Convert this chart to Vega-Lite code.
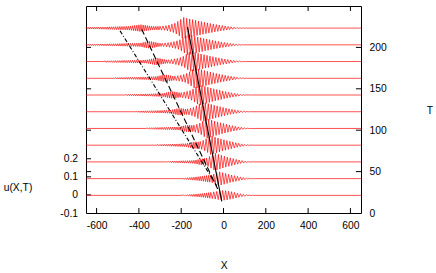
{
"$schema":"https://vega.github.io/schema/vega-lite/v6.json",
"width":275,"height":207,
"autosize":"none",
"padding":{"left":86,"top":6,"right":75,"bottom":60},
"background":"white",
"config":{"view":{"stroke":"#000","strokeWidth":1},"font":"Liberation Sans",
"axis":{"labelFont":"Liberation Sans","labelFontSize":10.3,"labelColor":"#000","titleFont":"Liberation Sans","titleFontSize":10.3,"titleFontWeight":"normal","titleColor":"#000","grid":false,"domain":false,"ticks":false}},
"layer":[
{"data":{"values":[{"u":0},{"u":0.1},{"u":0.2}]},
 "mark":{"type":"rule","color":"#000","strokeWidth":1},
 "encoding":{
  "y":{"field":"u","type":"quantitative","scale":{"domain":[-0.1,1.045],"nice":false,"zero":false},
   "axis":{"orient":"left","values":[-0.1,0,0.1,0.2],"format":"~g","labelExpr":"replace(datum.label,'−','-')","labelPadding":8.5,"title":"u(X,T)","titleAngle":0,"titleAlign":"center","titleBaseline":"middle","titleX":-68.5,"titleY":181.5}},
  "x":{"datum":-650,"type":"quantitative"},"x2":{"datum":-626}}},
{"layer":[
 {"data":{"values":[
{"k":10,"x":-650,"y":224.3},{"k":10,"x":-645,"y":222.3},{"k":10,"x":-640,"y":224.3},{"k":10,"x":-635,"y":222.2},{"k":10,"x":-630,"y":224.4},{"k":10,"x":-625,"y":222.2},{"k":10,"x":-620,"y":224.4},{"k":10,"x":-615,"y":222.2},{"k":10,"x":-610,"y":224.4},{"k":10,"x":-605,"y":222.2},{"k":10,"x":-600,"y":224.5},{"k":10,"x":-595,"y":222.1},{"k":10,"x":-590,"y":224.5},{"k":10,"x":-585,"y":222.1},{"k":10,"x":-580,"y":224.5},{"k":10,"x":-575,"y":222.0},{"k":10,"x":-570,"y":224.6},{"k":10,"x":-565,"y":222.0},{"k":10,"x":-560,"y":224.6},{"k":10,"x":-555,"y":221.9},{"k":10,"x":-550,"y":224.7},{"k":10,"x":-545,"y":221.8},{"k":10,"x":-540,"y":224.8},{"k":10,"x":-535,"y":221.8},{"k":10,"x":-530,"y":224.8},{"k":10,"x":-525,"y":221.7},{"k":10,"x":-520,"y":224.9},{"k":10,"x":-515,"y":221.6},{"k":10,"x":-510,"y":225.0},{"k":10,"x":-505,"y":221.5},{"k":10,"x":-500,"y":225.1},{"k":10,"x":-495,"y":221.4},{"k":10,"x":-490,"y":225.2},{"k":10,"x":-485,"y":221.3},{"k":10,"x":-480,"y":225.3},{"k":10,"x":-475,"y":221.3},{"k":10,"x":-470,"y":225.3},{"k":10,"x":-465,"y":221.2},{"k":10,"x":-460,"y":225.4},{"k":10,"x":-455,"y":221.1},{"k":10,"x":-450,"y":225.5},{"k":10,"x":-445,"y":220.9},{"k":10,"x":-440,"y":225.8},{"k":10,"x":-435,"y":220.6},{"k":10,"x":-430,"y":226.2},{"k":10,"x":-425,"y":220.2},{"k":10,"x":-420,"y":226.5},{"k":10,"x":-415,"y":219.9},{"k":10,"x":-410,"y":226.8},{"k":10,"x":-405,"y":219.6},{"k":10,"x":-400,"y":227.2},{"k":10,"x":-395,"y":219.2},{"k":10,"x":-390,"y":227.5},{"k":10,"x":-385,"y":219.3},{"k":10,"x":-380,"y":227.1},{"k":10,"x":-375,"y":219.7},{"k":10,"x":-370,"y":226.7},{"k":10,"x":-365,"y":220.1},{"k":10,"x":-360,"y":226.3},{"k":10,"x":-355,"y":220.4},{"k":10,"x":-350,"y":226.0},{"k":10,"x":-345,"y":220.8},{"k":10,"x":-340,"y":225.6},{"k":10,"x":-335,"y":221.1},{"k":10,"x":-330,"y":225.3},{"k":10,"x":-325,"y":221.2},{"k":10,"x":-320,"y":225.4},{"k":10,"x":-315,"y":221.2},{"k":10,"x":-310,"y":225.4},{"k":10,"x":-305,"y":221.1},
{"k":10,"x":-300,"y":225.5},{"k":10,"x":-293,"y":220.9},{"k":10,"x":-286,"y":225.9},{"k":10,"x":-279,"y":220.6},{"k":10,"x":-272,"y":226.2},{"k":10,"x":-265,"y":220.0},{"k":10,"x":-258,"y":227.0},{"k":10,"x":-251,"y":219.1},{"k":10,"x":-244,"y":228.1},{"k":10,"x":-237,"y":218.0},{"k":10,"x":-230,"y":229.2},{"k":10,"x":-223,"y":216.3},{"k":10,"x":-216,"y":231.4},{"k":10,"x":-209,"y":214.0},{"k":10,"x":-202,"y":233.9},{"k":10,"x":-195,"y":211.3},{"k":10,"x":-188,"y":236.2},{"k":10,"x":-181,"y":210.9},{"k":10,"x":-174,"y":235.2},{"k":10,"x":-167,"y":211.8},{"k":10,"x":-160,"y":234.4},{"k":10,"x":-153,"y":212.6},{"k":10,"x":-146,"y":233.6},{"k":10,"x":-139,"y":213.5},{"k":10,"x":-132,"y":232.7},{"k":10,"x":-125,"y":214.3},{"k":10,"x":-118,"y":231.9},{"k":10,"x":-111,"y":215.0},{"k":10,"x":-104,"y":231.1},{"k":10,"x":-97,"y":215.9},{"k":10,"x":-90,"y":230.4},{"k":10,"x":-83,"y":216.6},{"k":10,"x":-76,"y":229.6},{"k":10,"x":-69,"y":217.4},{"k":10,"x":-62,"y":228.9},{"k":10,"x":-55,"y":218.0},{"k":10,"x":-48,"y":228.3},{"k":10,"x":-41,"y":218.7},{"k":10,"x":-34,"y":227.6},{"k":10,"x":-27,"y":219.3},{"k":10,"x":-20,"y":227.0},{"k":10,"x":-13,"y":219.9},{"k":10,"x":-6,"y":226.4},{"k":10,"x":1,"y":220.4},{"k":10,"x":8,"y":225.9},{"k":10,"x":15,"y":221.0},{"k":10,"x":22,"y":225.3},{"k":10,"x":29,"y":221.5},{"k":10,"x":36,"y":224.9},{"k":10,"x":43,"y":221.9},{"k":10,"x":50,"y":224.5},{"k":10,"x":57,"y":222.3},{"k":10,"x":64,"y":224.1},{"k":10,"x":71,"y":222.7},{"k":10,"x":78,"y":223.8},{"k":10,"x":85,"y":222.9},{"k":10,"x":92,"y":223.6},{"k":10,"x":99,"y":223.1},{"k":10,"x":106,"y":223.4},{"k":10,"x":113,"y":223.3},{"k":10,"x":650,"y":223.3},
{"k":9,"x":-650,"y":203.9},{"k":9,"x":-645,"y":202.3},{"k":9,"x":-640,"y":203.9},{"k":9,"x":-635,"y":202.3},{"k":9,"x":-630,"y":203.9},{"k":9,"x":-625,"y":202.2},{"k":9,"x":-620,"y":204.0},{"k":9,"x":-615,"y":202.2},{"k":9,"x":-610,"y":204.0},{"k":9,"x":-605,"y":202.2},{"k":9,"x":-600,"y":204.0},{"k":9,"x":-595,"y":202.2},{"k":9,"x":-590,"y":204.0},{"k":9,"x":-585,"y":202.2},{"k":9,"x":-580,"y":204.1},{"k":9,"x":-575,"y":202.1},{"k":9,"x":-570,"y":204.1},{"k":9,"x":-565,"y":202.0},{"k":9,"x":-560,"y":204.2},{"k":9,"x":-555,"y":202.0},{"k":9,"x":-550,"y":204.2},{"k":9,"x":-545,"y":202.0},{"k":9,"x":-540,"y":204.3},{"k":9,"x":-535,"y":201.9},{"k":9,"x":-530,"y":204.3},{"k":9,"x":-525,"y":201.9},{"k":9,"x":-520,"y":204.4},{"k":9,"x":-515,"y":201.8},{"k":9,"x":-510,"y":204.4},{"k":9,"x":-505,"y":201.8},{"k":9,"x":-500,"y":204.5},{"k":9,"x":-495,"y":201.7},{"k":9,"x":-490,"y":204.6},{"k":9,"x":-485,"y":201.6},{"k":9,"x":-480,"y":204.7},{"k":9,"x":-475,"y":201.5},{"k":9,"x":-470,"y":204.7},{"k":9,"x":-465,"y":201.5},{"k":9,"x":-460,"y":204.8},{"k":9,"x":-455,"y":201.4},{"k":9,"x":-450,"y":204.9},{"k":9,"x":-445,"y":201.3},{"k":9,"x":-440,"y":204.9},{"k":9,"x":-435,"y":201.3},{"k":9,"x":-430,"y":205.0},{"k":9,"x":-425,"y":201.2},{"k":9,"x":-420,"y":205.0},{"k":9,"x":-415,"y":201.2},{"k":9,"x":-410,"y":205.1},{"k":9,"x":-405,"y":201.1},{"k":9,"x":-400,"y":205.1},{"k":9,"x":-395,"y":201.0},{"k":9,"x":-390,"y":205.4},{"k":9,"x":-385,"y":200.5},{"k":9,"x":-380,"y":206.0},{"k":9,"x":-375,"y":199.9},{"k":9,"x":-370,"y":206.6},{"k":9,"x":-365,"y":199.4},{"k":9,"x":-360,"y":207.0},{"k":9,"x":-355,"y":199.0},{"k":9,"x":-350,"y":207.3},{"k":9,"x":-345,"y":199.0},{"k":9,"x":-340,"y":207.0},{"k":9,"x":-335,"y":199.4},{"k":9,"x":-330,"y":206.6},{"k":9,"x":-325,"y":199.9},{"k":9,"x":-320,"y":206.0},{"k":9,"x":-315,"y":200.5},{"k":9,"x":-310,"y":205.4},{"k":9,"x":-305,"y":201.0},{"k":9,"x":-300,"y":205.0},{"k":9,"x":-295,"y":201.2},
{"k":9,"x":-290,"y":205.0},{"k":9,"x":-283,"y":201.1},{"k":9,"x":-276,"y":205.3},{"k":9,"x":-269,"y":200.7},{"k":9,"x":-262,"y":205.7},{"k":9,"x":-255,"y":200.2},{"k":9,"x":-248,"y":206.3},{"k":9,"x":-241,"y":199.6},{"k":9,"x":-234,"y":207.0},{"k":9,"x":-227,"y":198.8},{"k":9,"x":-220,"y":208.0},{"k":9,"x":-213,"y":197.7},{"k":9,"x":-206,"y":209.3},{"k":9,"x":-199,"y":195.8},{"k":9,"x":-192,"y":211.6},{"k":9,"x":-185,"y":193.4},{"k":9,"x":-178,"y":214.1},{"k":9,"x":-171,"y":190.8},{"k":9,"x":-164,"y":215.2},{"k":9,"x":-157,"y":191.5},{"k":9,"x":-150,"y":214.3},{"k":9,"x":-143,"y":192.4},{"k":9,"x":-136,"y":213.4},{"k":9,"x":-129,"y":193.3},{"k":9,"x":-122,"y":212.5},{"k":9,"x":-115,"y":194.1},{"k":9,"x":-108,"y":211.7},{"k":9,"x":-101,"y":194.9},{"k":9,"x":-94,"y":210.8},{"k":9,"x":-87,"y":195.8},{"k":9,"x":-80,"y":210.1},{"k":9,"x":-73,"y":196.5},{"k":9,"x":-66,"y":209.3},{"k":9,"x":-59,"y":197.3},{"k":9,"x":-52,"y":208.6},{"k":9,"x":-45,"y":198.0},{"k":9,"x":-38,"y":207.9},{"k":9,"x":-31,"y":198.7},{"k":9,"x":-24,"y":207.3},{"k":9,"x":-17,"y":199.3},{"k":9,"x":-10,"y":206.6},{"k":9,"x":-3,"y":199.9},{"k":9,"x":4,"y":206.0},{"k":9,"x":11,"y":200.4},{"k":9,"x":18,"y":205.5},{"k":9,"x":25,"y":201.0},{"k":9,"x":32,"y":204.9},{"k":9,"x":39,"y":201.5},{"k":9,"x":46,"y":204.5},{"k":9,"x":53,"y":202.0},{"k":9,"x":60,"y":204.0},{"k":9,"x":67,"y":202.3},{"k":9,"x":74,"y":203.7},{"k":9,"x":81,"y":202.7},{"k":9,"x":88,"y":203.3},{"k":9,"x":95,"y":203.0},{"k":9,"x":102,"y":203.2},{"k":9,"x":110,"y":203.1},{"k":9,"x":650,"y":203.1},
{"k":8,"x":-650,"y":182.9},{"k":8,"x":-565,"y":182.9},{"k":8,"x":-560,"y":183.7},{"k":8,"x":-555,"y":182.0},{"k":8,"x":-550,"y":183.8},{"k":8,"x":-545,"y":182.0},{"k":8,"x":-540,"y":183.8},{"k":8,"x":-535,"y":182.0},{"k":8,"x":-530,"y":183.9},{"k":8,"x":-525,"y":181.9},{"k":8,"x":-520,"y":183.9},{"k":8,"x":-515,"y":181.9},{"k":8,"x":-510,"y":184.0},{"k":8,"x":-505,"y":181.8},{"k":8,"x":-500,"y":184.0},{"k":8,"x":-495,"y":181.8},{"k":8,"x":-490,"y":184.1},{"k":8,"x":-485,"y":181.7},{"k":8,"x":-480,"y":184.1},{"k":8,"x":-475,"y":181.7},{"k":8,"x":-470,"y":184.2},{"k":8,"x":-465,"y":181.6},{"k":8,"x":-460,"y":184.2},{"k":8,"x":-455,"y":181.6},{"k":8,"x":-450,"y":184.3},{"k":8,"x":-445,"y":181.5},{"k":8,"x":-440,"y":184.4},{"k":8,"x":-435,"y":181.4},{"k":8,"x":-430,"y":184.5},{"k":8,"x":-425,"y":181.3},{"k":8,"x":-420,"y":184.5},{"k":8,"x":-415,"y":181.3},{"k":8,"x":-410,"y":184.6},{"k":8,"x":-405,"y":181.2},{"k":8,"x":-400,"y":184.7},{"k":8,"x":-395,"y":181.1},{"k":8,"x":-390,"y":184.7},{"k":8,"x":-385,"y":181.1},{"k":8,"x":-380,"y":184.8},{"k":8,"x":-375,"y":181.0},{"k":8,"x":-370,"y":184.9},{"k":8,"x":-365,"y":180.9},{"k":8,"x":-360,"y":185.0},{"k":8,"x":-355,"y":180.6},{"k":8,"x":-350,"y":185.5},{"k":8,"x":-345,"y":180.0},{"k":8,"x":-340,"y":186.1},{"k":8,"x":-335,"y":179.5},{"k":8,"x":-330,"y":186.6},{"k":8,"x":-325,"y":179.0},{"k":8,"x":-320,"y":187.0},{"k":8,"x":-315,"y":178.8},{"k":8,"x":-310,"y":187.0},{"k":8,"x":-305,"y":179.0},{"k":8,"x":-300,"y":186.6},{"k":8,"x":-295,"y":179.5},{"k":8,"x":-290,"y":186.1},{"k":8,"x":-285,"y":180.0},{"k":8,"x":-280,"y":185.5},{"k":8,"x":-275,"y":180.6},{"k":8,"x":-270,"y":185.0},{"k":8,"x":-265,"y":180.8},
{"k":8,"x":-260,"y":185.1},{"k":8,"x":-253,"y":180.5},{"k":8,"x":-246,"y":185.6},{"k":8,"x":-239,"y":180.0},{"k":8,"x":-232,"y":186.2},{"k":8,"x":-225,"y":179.3},{"k":8,"x":-218,"y":186.8},{"k":8,"x":-211,"y":178.5},{"k":8,"x":-204,"y":187.8},{"k":8,"x":-197,"y":177.3},{"k":8,"x":-190,"y":189.3},{"k":8,"x":-183,"y":175.5},{"k":8,"x":-176,"y":191.5},{"k":8,"x":-169,"y":173.0},{"k":8,"x":-162,"y":194.1},{"k":8,"x":-155,"y":171.1},{"k":8,"x":-148,"y":194.9},{"k":8,"x":-141,"y":171.4},{"k":8,"x":-134,"y":193.9},{"k":8,"x":-127,"y":172.3},{"k":8,"x":-120,"y":193.0},{"k":8,"x":-113,"y":173.2},{"k":8,"x":-106,"y":192.1},{"k":8,"x":-99,"y":174.2},{"k":8,"x":-92,"y":191.2},{"k":8,"x":-85,"y":175.0},{"k":8,"x":-78,"y":190.4},{"k":8,"x":-71,"y":175.8},{"k":8,"x":-64,"y":189.5},{"k":8,"x":-57,"y":176.7},{"k":8,"x":-50,"y":188.8},{"k":8,"x":-43,"y":177.4},{"k":8,"x":-36,"y":188.0},{"k":8,"x":-29,"y":178.2},{"k":8,"x":-22,"y":187.3},{"k":8,"x":-15,"y":178.9},{"k":8,"x":-8,"y":186.6},{"k":8,"x":-1,"y":179.6},{"k":8,"x":6,"y":186.0},{"k":8,"x":13,"y":180.1},{"k":8,"x":20,"y":185.4},{"k":8,"x":27,"y":180.7},{"k":8,"x":34,"y":184.8},{"k":8,"x":41,"y":181.2},{"k":8,"x":48,"y":184.3},{"k":8,"x":55,"y":181.8},{"k":8,"x":62,"y":183.8},{"k":8,"x":69,"y":182.2},{"k":8,"x":76,"y":183.5},{"k":8,"x":83,"y":182.5},{"k":8,"x":90,"y":183.2},{"k":8,"x":97,"y":182.7},{"k":8,"x":104,"y":183.0},{"k":8,"x":111,"y":182.9},{"k":8,"x":650,"y":182.9},
{"k":7,"x":-650,"y":162.7},{"k":7,"x":-515,"y":162.7},{"k":7,"x":-510,"y":163.5},{"k":7,"x":-505,"y":161.9},{"k":7,"x":-500,"y":163.6},{"k":7,"x":-495,"y":161.8},{"k":7,"x":-490,"y":163.6},{"k":7,"x":-485,"y":161.8},{"k":7,"x":-480,"y":163.7},{"k":7,"x":-475,"y":161.7},{"k":7,"x":-470,"y":163.7},{"k":7,"x":-465,"y":161.7},{"k":7,"x":-460,"y":163.8},{"k":7,"x":-455,"y":161.6},{"k":7,"x":-450,"y":163.8},{"k":7,"x":-445,"y":161.6},{"k":7,"x":-440,"y":163.9},{"k":7,"x":-435,"y":161.5},{"k":7,"x":-430,"y":163.9},{"k":7,"x":-425,"y":161.5},{"k":7,"x":-420,"y":164.0},{"k":7,"x":-415,"y":161.4},{"k":7,"x":-410,"y":164.0},{"k":7,"x":-405,"y":161.4},{"k":7,"x":-400,"y":164.1},{"k":7,"x":-395,"y":161.3},{"k":7,"x":-390,"y":164.2},{"k":7,"x":-385,"y":161.2},{"k":7,"x":-380,"y":164.3},{"k":7,"x":-375,"y":161.1},{"k":7,"x":-370,"y":164.3},{"k":7,"x":-365,"y":161.1},{"k":7,"x":-360,"y":164.4},{"k":7,"x":-355,"y":161.0},{"k":7,"x":-350,"y":164.5},{"k":7,"x":-345,"y":160.9},{"k":7,"x":-340,"y":164.6},{"k":7,"x":-335,"y":160.8},{"k":7,"x":-330,"y":164.7},{"k":7,"x":-325,"y":160.7},{"k":7,"x":-320,"y":164.8},{"k":7,"x":-315,"y":160.4},{"k":7,"x":-310,"y":165.3},{"k":7,"x":-305,"y":159.8},{"k":7,"x":-300,"y":165.9},{"k":7,"x":-295,"y":159.3},{"k":7,"x":-290,"y":166.4},{"k":7,"x":-285,"y":158.8},{"k":7,"x":-280,"y":166.8},{"k":7,"x":-275,"y":158.6},{"k":7,"x":-270,"y":166.8},{"k":7,"x":-265,"y":158.8},{"k":7,"x":-260,"y":166.4},{"k":7,"x":-255,"y":159.3},{"k":7,"x":-250,"y":165.9},{"k":7,"x":-245,"y":159.8},{"k":7,"x":-240,"y":165.3},{"k":7,"x":-235,"y":160.2},
{"k":7,"x":-230,"y":165.2},{"k":7,"x":-223,"y":159.9},{"k":7,"x":-216,"y":165.8},{"k":7,"x":-209,"y":159.3},{"k":7,"x":-202,"y":166.4},{"k":7,"x":-195,"y":158.6},{"k":7,"x":-188,"y":167.3},{"k":7,"x":-181,"y":157.6},{"k":7,"x":-174,"y":168.6},{"k":7,"x":-167,"y":155.9},{"k":7,"x":-160,"y":170.6},{"k":7,"x":-153,"y":153.5},{"k":7,"x":-146,"y":173.2},{"k":7,"x":-139,"y":151.1},{"k":7,"x":-132,"y":174.7},{"k":7,"x":-125,"y":151.0},{"k":7,"x":-118,"y":174.0},{"k":7,"x":-111,"y":151.9},{"k":7,"x":-104,"y":173.0},{"k":7,"x":-97,"y":152.9},{"k":7,"x":-90,"y":172.1},{"k":7,"x":-83,"y":153.8},{"k":7,"x":-76,"y":171.1},{"k":7,"x":-69,"y":154.8},{"k":7,"x":-62,"y":170.2},{"k":7,"x":-55,"y":155.6},{"k":7,"x":-48,"y":169.4},{"k":7,"x":-41,"y":156.4},{"k":7,"x":-34,"y":168.5},{"k":7,"x":-27,"y":157.3},{"k":7,"x":-20,"y":167.8},{"k":7,"x":-13,"y":158.0},{"k":7,"x":-6,"y":167.1},{"k":7,"x":1,"y":158.8},{"k":7,"x":8,"y":166.3},{"k":7,"x":15,"y":159.4},{"k":7,"x":22,"y":165.7},{"k":7,"x":29,"y":160.1},{"k":7,"x":36,"y":165.1},{"k":7,"x":43,"y":160.6},{"k":7,"x":50,"y":164.5},{"k":7,"x":57,"y":161.2},{"k":7,"x":64,"y":164.0},{"k":7,"x":71,"y":161.6},{"k":7,"x":78,"y":163.6},{"k":7,"x":85,"y":162.1},{"k":7,"x":92,"y":163.2},{"k":7,"x":99,"y":162.4},{"k":7,"x":106,"y":162.9},{"k":7,"x":113,"y":162.6},{"k":7,"x":120,"y":162.7},{"k":7,"x":650,"y":162.7},
{"k":6,"x":-650,"y":142.5},{"k":6,"x":-465,"y":142.5},{"k":6,"x":-460,"y":143.3},{"k":6,"x":-455,"y":141.7},{"k":6,"x":-450,"y":143.4},{"k":6,"x":-445,"y":141.6},{"k":6,"x":-440,"y":143.4},{"k":6,"x":-435,"y":141.6},{"k":6,"x":-430,"y":143.5},{"k":6,"x":-425,"y":141.5},{"k":6,"x":-420,"y":143.5},{"k":6,"x":-415,"y":141.5},{"k":6,"x":-410,"y":143.6},{"k":6,"x":-405,"y":141.4},{"k":6,"x":-400,"y":143.6},{"k":6,"x":-395,"y":141.4},{"k":6,"x":-390,"y":143.7},{"k":6,"x":-385,"y":141.3},{"k":6,"x":-380,"y":143.7},{"k":6,"x":-375,"y":141.3},{"k":6,"x":-370,"y":143.8},{"k":6,"x":-365,"y":141.2},{"k":6,"x":-360,"y":143.8},{"k":6,"x":-355,"y":141.2},{"k":6,"x":-350,"y":143.9},{"k":6,"x":-345,"y":141.1},{"k":6,"x":-340,"y":144.0},{"k":6,"x":-335,"y":141.0},{"k":6,"x":-330,"y":144.1},{"k":6,"x":-325,"y":140.9},{"k":6,"x":-320,"y":144.2},{"k":6,"x":-315,"y":140.8},{"k":6,"x":-310,"y":144.3},{"k":6,"x":-305,"y":140.7},{"k":6,"x":-300,"y":144.3},{"k":6,"x":-295,"y":140.7},{"k":6,"x":-290,"y":144.4},{"k":6,"x":-285,"y":140.4},{"k":6,"x":-280,"y":144.8},{"k":6,"x":-275,"y":139.9},{"k":6,"x":-270,"y":145.4},{"k":6,"x":-265,"y":139.3},{"k":6,"x":-260,"y":146.0},{"k":6,"x":-255,"y":138.8},{"k":6,"x":-250,"y":146.4},{"k":6,"x":-245,"y":138.5},{"k":6,"x":-240,"y":146.7},{"k":6,"x":-235,"y":138.5},{"k":6,"x":-230,"y":146.4},{"k":6,"x":-225,"y":138.8},{"k":6,"x":-220,"y":146.0},{"k":6,"x":-215,"y":139.3},{"k":6,"x":-210,"y":145.4},{"k":6,"x":-205,"y":139.6},
{"k":6,"x":-200,"y":145.4},{"k":6,"x":-193,"y":139.3},{"k":6,"x":-186,"y":146.1},{"k":6,"x":-179,"y":138.6},{"k":6,"x":-172,"y":146.9},{"k":6,"x":-165,"y":137.7},{"k":6,"x":-158,"y":147.9},{"k":6,"x":-151,"y":136.2},{"k":6,"x":-144,"y":149.8},{"k":6,"x":-137,"y":134.1},{"k":6,"x":-130,"y":152.2},{"k":6,"x":-123,"y":131.5},{"k":6,"x":-116,"y":154.3},{"k":6,"x":-109,"y":130.5},{"k":6,"x":-102,"y":154.0},{"k":6,"x":-95,"y":131.6},{"k":6,"x":-88,"y":153.0},{"k":6,"x":-81,"y":132.5},{"k":6,"x":-74,"y":152.0},{"k":6,"x":-67,"y":133.5},{"k":6,"x":-60,"y":151.0},{"k":6,"x":-53,"y":134.5},{"k":6,"x":-46,"y":150.0},{"k":6,"x":-39,"y":135.5},{"k":6,"x":-32,"y":149.1},{"k":6,"x":-25,"y":136.3},{"k":6,"x":-18,"y":148.3},{"k":6,"x":-11,"y":137.1},{"k":6,"x":-4,"y":147.4},{"k":6,"x":3,"y":138.0},{"k":6,"x":10,"y":146.6},{"k":6,"x":17,"y":138.8},{"k":6,"x":24,"y":145.9},{"k":6,"x":31,"y":139.5},{"k":6,"x":38,"y":145.2},{"k":6,"x":45,"y":140.1},{"k":6,"x":52,"y":144.6},{"k":6,"x":59,"y":140.7},{"k":6,"x":66,"y":144.1},{"k":6,"x":73,"y":141.2},{"k":6,"x":80,"y":143.5},{"k":6,"x":87,"y":141.7},{"k":6,"x":94,"y":143.1},{"k":6,"x":101,"y":142.1},{"k":6,"x":108,"y":142.7},{"k":6,"x":115,"y":142.4},{"k":6,"x":122,"y":142.6},{"k":6,"x":130,"y":142.5},{"k":6,"x":650,"y":142.5},
{"k":5,"x":-650,"y":122.3},{"k":5,"x":-415,"y":122.3},{"k":5,"x":-410,"y":123.1},{"k":5,"x":-405,"y":121.5},{"k":5,"x":-400,"y":123.2},{"k":5,"x":-395,"y":121.4},{"k":5,"x":-390,"y":123.2},{"k":5,"x":-385,"y":121.4},{"k":5,"x":-380,"y":123.3},{"k":5,"x":-375,"y":121.3},{"k":5,"x":-370,"y":123.3},{"k":5,"x":-365,"y":121.3},{"k":5,"x":-360,"y":123.4},{"k":5,"x":-355,"y":121.2},{"k":5,"x":-350,"y":123.4},{"k":5,"x":-345,"y":121.2},{"k":5,"x":-340,"y":123.5},{"k":5,"x":-335,"y":121.1},{"k":5,"x":-330,"y":123.5},{"k":5,"x":-325,"y":121.1},{"k":5,"x":-320,"y":123.6},{"k":5,"x":-315,"y":121.0},{"k":5,"x":-310,"y":123.7},{"k":5,"x":-305,"y":120.9},{"k":5,"x":-300,"y":123.8},{"k":5,"x":-295,"y":120.8},{"k":5,"x":-290,"y":123.9},{"k":5,"x":-285,"y":120.7},{"k":5,"x":-280,"y":124.0},{"k":5,"x":-275,"y":120.6},{"k":5,"x":-270,"y":124.1},{"k":5,"x":-265,"y":120.5},{"k":5,"x":-260,"y":124.1},{"k":5,"x":-255,"y":120.4},{"k":5,"x":-250,"y":124.4},{"k":5,"x":-245,"y":120.0},{"k":5,"x":-240,"y":124.9},{"k":5,"x":-235,"y":119.4},{"k":5,"x":-230,"y":125.5},{"k":5,"x":-225,"y":118.9},{"k":5,"x":-220,"y":126.0},{"k":5,"x":-215,"y":118.4},{"k":5,"x":-210,"y":126.4},{"k":5,"x":-205,"y":118.2},{"k":5,"x":-200,"y":126.4},{"k":5,"x":-195,"y":118.4},{"k":5,"x":-190,"y":126.0},{"k":5,"x":-185,"y":118.9},{"k":5,"x":-180,"y":125.5},{"k":5,"x":-175,"y":119.0},
{"k":5,"x":-170,"y":125.8},{"k":5,"x":-163,"y":118.5},{"k":5,"x":-156,"y":126.6},{"k":5,"x":-149,"y":117.5},{"k":5,"x":-142,"y":127.6},{"k":5,"x":-135,"y":116.2},{"k":5,"x":-128,"y":129.4},{"k":5,"x":-121,"y":114.1},{"k":5,"x":-114,"y":131.8},{"k":5,"x":-107,"y":111.6},{"k":5,"x":-100,"y":134.3},{"k":5,"x":-93,"y":110.9},{"k":5,"x":-86,"y":133.2},{"k":5,"x":-79,"y":111.9},{"k":5,"x":-72,"y":132.2},{"k":5,"x":-65,"y":113.0},{"k":5,"x":-58,"y":131.2},{"k":5,"x":-51,"y":113.9},{"k":5,"x":-44,"y":130.2},{"k":5,"x":-37,"y":114.9},{"k":5,"x":-30,"y":129.3},{"k":5,"x":-23,"y":115.8},{"k":5,"x":-16,"y":128.4},{"k":5,"x":-9,"y":116.7},{"k":5,"x":-2,"y":127.5},{"k":5,"x":5,"y":117.5},{"k":5,"x":12,"y":126.7},{"k":5,"x":19,"y":118.3},{"k":5,"x":26,"y":125.9},{"k":5,"x":33,"y":119.1},{"k":5,"x":40,"y":125.2},{"k":5,"x":47,"y":119.7},{"k":5,"x":54,"y":124.6},{"k":5,"x":61,"y":120.3},{"k":5,"x":68,"y":124.0},{"k":5,"x":75,"y":120.9},{"k":5,"x":82,"y":123.4},{"k":5,"x":89,"y":121.4},{"k":5,"x":96,"y":123.0},{"k":5,"x":103,"y":121.8},{"k":5,"x":110,"y":122.6},{"k":5,"x":117,"y":122.1},{"k":5,"x":124,"y":122.4},{"k":5,"x":131,"y":122.3},{"k":5,"x":650,"y":122.3},
{"k":4,"x":-650,"y":102.1},{"k":4,"x":-365,"y":102.1},{"k":4,"x":-360,"y":102.9},{"k":4,"x":-355,"y":101.3},{"k":4,"x":-350,"y":103.0},{"k":4,"x":-345,"y":101.2},{"k":4,"x":-340,"y":103.0},{"k":4,"x":-335,"y":101.2},{"k":4,"x":-330,"y":103.1},{"k":4,"x":-325,"y":101.1},{"k":4,"x":-320,"y":103.2},{"k":4,"x":-315,"y":101.0},{"k":4,"x":-310,"y":103.2},{"k":4,"x":-305,"y":101.0},{"k":4,"x":-300,"y":103.3},{"k":4,"x":-295,"y":100.9},{"k":4,"x":-290,"y":103.4},{"k":4,"x":-285,"y":100.8},{"k":4,"x":-280,"y":103.4},{"k":4,"x":-275,"y":100.8},{"k":4,"x":-270,"y":103.5},{"k":4,"x":-265,"y":100.7},{"k":4,"x":-260,"y":103.6},{"k":4,"x":-255,"y":100.6},{"k":4,"x":-250,"y":103.7},{"k":4,"x":-245,"y":100.5},{"k":4,"x":-240,"y":103.8},{"k":4,"x":-235,"y":100.4},{"k":4,"x":-230,"y":103.9},{"k":4,"x":-225,"y":100.3},{"k":4,"x":-220,"y":103.9},{"k":4,"x":-215,"y":100.3},{"k":4,"x":-210,"y":104.0},{"k":4,"x":-205,"y":99.9},{"k":4,"x":-200,"y":104.7},{"k":4,"x":-195,"y":99.2},{"k":4,"x":-190,"y":105.3},{"k":4,"x":-185,"y":98.7},{"k":4,"x":-180,"y":105.8},{"k":4,"x":-175,"y":98.2},{"k":4,"x":-170,"y":106.2},{"k":4,"x":-165,"y":98.0},{"k":4,"x":-160,"y":106.2},{"k":4,"x":-155,"y":98.2},{"k":4,"x":-150,"y":105.8},{"k":4,"x":-145,"y":98.3},
{"k":4,"x":-140,"y":106.1},{"k":4,"x":-133,"y":97.6},{"k":4,"x":-126,"y":107.1},{"k":4,"x":-119,"y":96.6},{"k":4,"x":-112,"y":108.6},{"k":4,"x":-105,"y":94.5},{"k":4,"x":-98,"y":110.9},{"k":4,"x":-91,"y":92.1},{"k":4,"x":-84,"y":113.4},{"k":4,"x":-77,"y":90.3},{"k":4,"x":-70,"y":113.3},{"k":4,"x":-63,"y":91.5},{"k":4,"x":-56,"y":112.2},{"k":4,"x":-49,"y":92.6},{"k":4,"x":-42,"y":111.1},{"k":4,"x":-35,"y":93.7},{"k":4,"x":-28,"y":110.0},{"k":4,"x":-21,"y":94.7},{"k":4,"x":-14,"y":109.0},{"k":4,"x":-7,"y":95.7},{"k":4,"x":0,"y":108.1},{"k":4,"x":7,"y":96.6},{"k":4,"x":14,"y":107.2},{"k":4,"x":21,"y":97.5},{"k":4,"x":28,"y":106.3},{"k":4,"x":35,"y":98.3},{"k":4,"x":42,"y":105.5},{"k":4,"x":49,"y":99.1},{"k":4,"x":56,"y":104.8},{"k":4,"x":63,"y":99.8},{"k":4,"x":70,"y":104.1},{"k":4,"x":77,"y":100.4},{"k":4,"x":84,"y":103.5},{"k":4,"x":91,"y":101.0},{"k":4,"x":98,"y":103.0},{"k":4,"x":105,"y":101.5},{"k":4,"x":112,"y":102.5},{"k":4,"x":119,"y":101.9},{"k":4,"x":126,"y":102.2},{"k":4,"x":133,"y":102.0},{"k":4,"x":140,"y":102.1},{"k":4,"x":650,"y":102.1},
{"k":3,"x":-650,"y":81.9},{"k":3,"x":-315,"y":81.9},{"k":3,"x":-310,"y":82.7},{"k":3,"x":-305,"y":81.1},{"k":3,"x":-300,"y":82.8},{"k":3,"x":-295,"y":81.0},{"k":3,"x":-290,"y":82.8},{"k":3,"x":-285,"y":81.0},{"k":3,"x":-280,"y":82.9},{"k":3,"x":-275,"y":80.9},{"k":3,"x":-270,"y":83.0},{"k":3,"x":-265,"y":80.8},{"k":3,"x":-260,"y":83.1},{"k":3,"x":-255,"y":80.7},{"k":3,"x":-250,"y":83.2},{"k":3,"x":-245,"y":80.6},{"k":3,"x":-240,"y":83.2},{"k":3,"x":-235,"y":80.6},{"k":3,"x":-230,"y":83.3},{"k":3,"x":-225,"y":80.5},{"k":3,"x":-220,"y":83.4},{"k":3,"x":-215,"y":80.4},{"k":3,"x":-210,"y":83.5},{"k":3,"x":-205,"y":80.3},{"k":3,"x":-200,"y":83.6},{"k":3,"x":-195,"y":80.2},{"k":3,"x":-190,"y":83.7},{"k":3,"x":-185,"y":80.1},{"k":3,"x":-180,"y":83.8},{"k":3,"x":-175,"y":79.8},{"k":3,"x":-170,"y":84.2},{"k":3,"x":-165,"y":79.3},{"k":3,"x":-160,"y":84.8},{"k":3,"x":-155,"y":78.7},{"k":3,"x":-150,"y":85.4},{"k":3,"x":-145,"y":78.2},{"k":3,"x":-140,"y":85.8},{"k":3,"x":-135,"y":77.9},{"k":3,"x":-130,"y":86.1},{"k":3,"x":-125,"y":77.9},{"k":3,"x":-120,"y":85.8},{"k":3,"x":-115,"y":77.7},
{"k":3,"x":-110,"y":86.4},{"k":3,"x":-103,"y":76.9},{"k":3,"x":-96,"y":87.7},{"k":3,"x":-89,"y":75.2},{"k":3,"x":-82,"y":89.7},{"k":3,"x":-75,"y":73.0},{"k":3,"x":-68,"y":92.0},{"k":3,"x":-61,"y":70.6},{"k":3,"x":-54,"y":92.9},{"k":3,"x":-47,"y":71.5},{"k":3,"x":-40,"y":91.7},{"k":3,"x":-33,"y":72.7},{"k":3,"x":-26,"y":90.6},{"k":3,"x":-19,"y":73.8},{"k":3,"x":-12,"y":89.5},{"k":3,"x":-5,"y":74.8},{"k":3,"x":2,"y":88.5},{"k":3,"x":9,"y":75.8},{"k":3,"x":16,"y":87.5},{"k":3,"x":23,"y":76.8},{"k":3,"x":30,"y":86.6},{"k":3,"x":37,"y":77.6},{"k":3,"x":44,"y":85.8},{"k":3,"x":51,"y":78.5},{"k":3,"x":58,"y":84.9},{"k":3,"x":65,"y":79.3},{"k":3,"x":72,"y":84.2},{"k":3,"x":79,"y":80.0},{"k":3,"x":86,"y":83.5},{"k":3,"x":93,"y":80.6},{"k":3,"x":100,"y":82.9},{"k":3,"x":107,"y":81.1},{"k":3,"x":114,"y":82.5},{"k":3,"x":121,"y":81.5},{"k":3,"x":128,"y":82.1},{"k":3,"x":135,"y":81.9},{"k":3,"x":650,"y":81.9},
{"k":2,"x":-650,"y":61.7},{"k":2,"x":-265,"y":61.7},{"k":2,"x":-260,"y":62.5},{"k":2,"x":-255,"y":60.9},{"k":2,"x":-250,"y":62.6},{"k":2,"x":-245,"y":60.8},{"k":2,"x":-240,"y":62.7},{"k":2,"x":-235,"y":60.7},{"k":2,"x":-230,"y":62.7},{"k":2,"x":-225,"y":60.7},{"k":2,"x":-220,"y":62.8},{"k":2,"x":-215,"y":60.6},{"k":2,"x":-210,"y":62.9},{"k":2,"x":-205,"y":60.5},{"k":2,"x":-200,"y":63.0},{"k":2,"x":-195,"y":60.4},{"k":2,"x":-190,"y":63.1},{"k":2,"x":-185,"y":60.3},{"k":2,"x":-180,"y":63.1},{"k":2,"x":-175,"y":60.3},{"k":2,"x":-170,"y":63.2},{"k":2,"x":-165,"y":60.2},{"k":2,"x":-160,"y":63.3},{"k":2,"x":-155,"y":60.1},{"k":2,"x":-150,"y":63.4},{"k":2,"x":-145,"y":59.9},{"k":2,"x":-140,"y":63.6},{"k":2,"x":-135,"y":59.6},{"k":2,"x":-130,"y":64.0},{"k":2,"x":-125,"y":59.1},{"k":2,"x":-120,"y":64.6},{"k":2,"x":-115,"y":58.5},{"k":2,"x":-110,"y":65.2},{"k":2,"x":-105,"y":58.0},{"k":2,"x":-100,"y":65.6},{"k":2,"x":-95,"y":57.7},{"k":2,"x":-90,"y":65.9},{"k":2,"x":-85,"y":57.3},
{"k":2,"x":-80,"y":66.4},{"k":2,"x":-73,"y":56.1},{"k":2,"x":-66,"y":68.3},{"k":2,"x":-59,"y":54.2},{"k":2,"x":-52,"y":70.3},{"k":2,"x":-45,"y":52.0},{"k":2,"x":-38,"y":72.0},{"k":2,"x":-31,"y":52.0},{"k":2,"x":-24,"y":70.8},{"k":2,"x":-17,"y":53.1},{"k":2,"x":-10,"y":69.7},{"k":2,"x":-3,"y":54.3},{"k":2,"x":4,"y":68.6},{"k":2,"x":11,"y":55.4},{"k":2,"x":18,"y":67.5},{"k":2,"x":25,"y":56.4},{"k":2,"x":32,"y":66.6},{"k":2,"x":39,"y":57.3},{"k":2,"x":46,"y":65.6},{"k":2,"x":53,"y":58.2},{"k":2,"x":60,"y":64.8},{"k":2,"x":67,"y":59.0},{"k":2,"x":74,"y":64.0},{"k":2,"x":81,"y":59.8},{"k":2,"x":88,"y":63.3},{"k":2,"x":95,"y":60.4},{"k":2,"x":102,"y":62.7},{"k":2,"x":109,"y":61.0},{"k":2,"x":116,"y":62.2},{"k":2,"x":123,"y":61.4},{"k":2,"x":130,"y":61.8},{"k":2,"x":137,"y":61.7},{"k":2,"x":650,"y":61.7},
{"k":1,"x":-650,"y":41.5},{"k":1,"x":-205,"y":41.5},{"k":1,"x":-200,"y":42.1},{"k":1,"x":-195,"y":40.8},{"k":1,"x":-190,"y":42.3},{"k":1,"x":-185,"y":40.7},{"k":1,"x":-180,"y":42.4},{"k":1,"x":-175,"y":40.5},{"k":1,"x":-170,"y":42.6},{"k":1,"x":-165,"y":40.3},{"k":1,"x":-160,"y":42.8},{"k":1,"x":-155,"y":40.1},{"k":1,"x":-150,"y":43.1},{"k":1,"x":-145,"y":39.8},{"k":1,"x":-140,"y":43.3},{"k":1,"x":-135,"y":39.6},{"k":1,"x":-130,"y":43.6},{"k":1,"x":-125,"y":39.3},{"k":1,"x":-120,"y":43.8},{"k":1,"x":-115,"y":39.0},{"k":1,"x":-110,"y":44.2},{"k":1,"x":-105,"y":38.7},{"k":1,"x":-100,"y":44.5},{"k":1,"x":-95,"y":38.3},{"k":1,"x":-90,"y":44.9},{"k":1,"x":-85,"y":38.0},{"k":1,"x":-80,"y":45.2},{"k":1,"x":-75,"y":37.6},{"k":1,"x":-70,"y":45.6},{"k":1,"x":-65,"y":37.2},
{"k":1,"x":-60,"y":46.0},{"k":1,"x":-53,"y":36.5},{"k":1,"x":-46,"y":47.1},{"k":1,"x":-39,"y":35.2},{"k":1,"x":-32,"y":48.7},{"k":1,"x":-25,"y":33.6},{"k":1,"x":-18,"y":49.8},{"k":1,"x":-11,"y":33.7},{"k":1,"x":-4,"y":48.8},{"k":1,"x":3,"y":34.7},{"k":1,"x":10,"y":47.8},{"k":1,"x":17,"y":35.7},{"k":1,"x":24,"y":46.8},{"k":1,"x":31,"y":36.7},{"k":1,"x":38,"y":45.9},{"k":1,"x":45,"y":37.5},{"k":1,"x":52,"y":45.1},{"k":1,"x":59,"y":38.3},{"k":1,"x":66,"y":44.3},{"k":1,"x":73,"y":39.1},{"k":1,"x":80,"y":43.6},{"k":1,"x":87,"y":39.8},{"k":1,"x":94,"y":42.9},{"k":1,"x":101,"y":40.3},{"k":1,"x":108,"y":42.4},{"k":1,"x":115,"y":40.9},{"k":1,"x":122,"y":41.9},{"k":1,"x":129,"y":41.3},{"k":1,"x":136,"y":41.6},{"k":1,"x":143,"y":41.4},{"k":1,"x":150,"y":41.5},{"k":1,"x":650,"y":41.5},
{"k":0,"x":-650,"y":21.3},{"k":0,"x":-195,"y":21.3},{"k":0,"x":-190,"y":21.8},{"k":0,"x":-185,"y":20.8},{"k":0,"x":-180,"y":21.9},{"k":0,"x":-175,"y":20.6},{"k":0,"x":-170,"y":22.1},{"k":0,"x":-165,"y":20.4},{"k":0,"x":-160,"y":22.3},{"k":0,"x":-155,"y":20.2},{"k":0,"x":-150,"y":22.5},{"k":0,"x":-145,"y":20.0},{"k":0,"x":-140,"y":22.7},{"k":0,"x":-135,"y":19.8},{"k":0,"x":-130,"y":22.9},{"k":0,"x":-125,"y":19.6},{"k":0,"x":-120,"y":23.1},{"k":0,"x":-115,"y":19.4},{"k":0,"x":-110,"y":23.3},{"k":0,"x":-105,"y":19.2},{"k":0,"x":-100,"y":23.6},{"k":0,"x":-95,"y":18.9},{"k":0,"x":-90,"y":23.9},{"k":0,"x":-85,"y":18.6},{"k":0,"x":-80,"y":24.2},{"k":0,"x":-75,"y":18.2},{"k":0,"x":-70,"y":24.6},{"k":0,"x":-65,"y":17.9},
{"k":0,"x":-60,"y":24.9},{"k":0,"x":-53,"y":17.4},{"k":0,"x":-46,"y":25.5},{"k":0,"x":-39,"y":16.9},{"k":0,"x":-32,"y":26.1},{"k":0,"x":-25,"y":16.2},{"k":0,"x":-18,"y":26.8},{"k":0,"x":-11,"y":15.5},{"k":0,"x":-4,"y":27.2},{"k":0,"x":3,"y":15.4},{"k":0,"x":10,"y":27.0},{"k":0,"x":17,"y":15.9},{"k":0,"x":24,"y":26.4},{"k":0,"x":31,"y":16.6},{"k":0,"x":38,"y":25.7},{"k":0,"x":45,"y":17.3},{"k":0,"x":52,"y":24.9},{"k":0,"x":59,"y":18.1},{"k":0,"x":66,"y":24.0},{"k":0,"x":73,"y":19.0},{"k":0,"x":80,"y":23.3},{"k":0,"x":87,"y":19.7},{"k":0,"x":94,"y":22.6},{"k":0,"x":101,"y":20.2},{"k":0,"x":108,"y":22.1},{"k":0,"x":115,"y":20.8},{"k":0,"x":122,"y":21.7},{"k":0,"x":129,"y":21.1},{"k":0,"x":136,"y":21.4},{"k":0,"x":143,"y":21.2},{"k":0,"x":150,"y":21.3},{"k":0,"x":650,"y":21.3}
 ]},
 "mark":{"type":"line","color":"#ff0000","strokeWidth":0.8,"strokeOpacity":0.85,"interpolate":"linear"},
 "encoding":{
  "x":{"field":"x","type":"quantitative","scale":{"domain":[-650,650],"nice":false,"zero":false},
   "axis":{"values":[-600,-400,-200,0,200,400,600],"format":"d","labelExpr":"replace(datum.label,'−','-')","labelPadding":7.5,"title":"X","titleX":137.7,"titleY":52.8,"titleBaseline":"middle","titleAlign":"center"}},
  "y":{"field":"y","type":"quantitative","scale":{"domain":[0,250],"nice":false,"zero":false},
   "axis":{"orient":"right","values":[0,50,100,150,200],"format":"d","labelPadding":8,"title":"T","titleAngle":0,"titleAlign":"center","titleBaseline":"middle","titleX":68.5,"titleY":104.8}},
  "detail":{"field":"k","type":"nominal"}}},
 {"data":{"values":[{"l":"a","x":-170,"y":224.5},{"l":"a","x":-8,"y":14},{"l":"b","x":-387,"y":222},{"l":"b","x":-24,"y":27},{"l":"c","x":-489,"y":220},{"l":"c","x":-32,"y":33}]},
 "mark":{"type":"line","color":"#000","strokeWidth":1.1},
 "encoding":{"x":{"field":"x","type":"quantitative"},"y":{"field":"y","type":"quantitative"},"detail":{"field":"l","type":"nominal"},
  "strokeDash":{"field":"l","type":"nominal","scale":{"domain":["a","b","c"],"range":[[1,0],[6,3],[4,2,1,2]]},"legend":null}}},
 {"data":{"values":[{"v":-600},{"v":-400},{"v":-200},{"v":0},{"v":200},{"v":400},{"v":600}]},
 "mark":{"type":"rule","color":"#000","strokeWidth":1},
 "encoding":{"x":{"field":"v","type":"quantitative"},"y":{"datum":0,"type":"quantitative"},"y2":{"datum":6}}},
 {"data":{"values":[{"v":-600},{"v":-400},{"v":-200},{"v":0},{"v":200},{"v":400},{"v":600}]},
 "mark":{"type":"rule","color":"#000","strokeWidth":1},
 "encoding":{"x":{"field":"v","type":"quantitative"},"y":{"datum":250,"type":"quantitative"},"y2":{"datum":244}}},
 {"data":{"values":[{"v":50},{"v":100},{"v":150},{"v":200}]},
 "mark":{"type":"rule","color":"#000","strokeWidth":1},
 "encoding":{"y":{"field":"v","type":"quantitative"},"x":{"datum":650,"type":"quantitative"},"x2":{"datum":626}}},
 {"data":{"values":[{"v":50},{"v":100},{"v":150},{"v":200}]},
 "mark":{"type":"rule","color":"#000","strokeWidth":1},
 "encoding":{"y":{"field":"v","type":"quantitative"},"x":{"datum":-650,"type":"quantitative"},"x2":{"datum":-626}}}
]}
],
"resolve":{"scale":{"y":"independent"},"axis":{"y":"independent"}}
}
